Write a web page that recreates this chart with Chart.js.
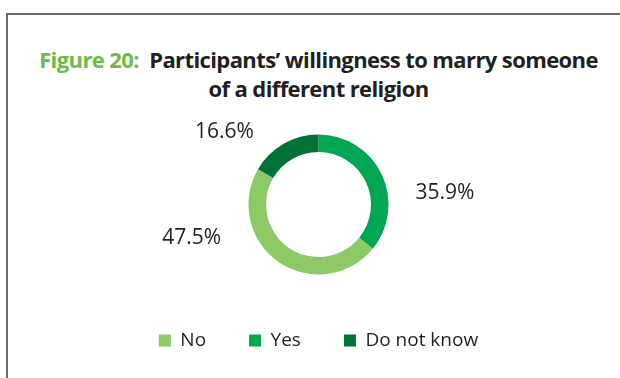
<!DOCTYPE html>
<html>
<head>
<meta charset="utf-8">
<script src="https://cdn.jsdelivr.net/npm/chart.js@4.4.1/dist/chart.umd.min.js"></script>
<style>
  html, body { margin: 0; padding: 0; background: #fff; }
  #wrap { position: relative; width: 620px; height: 378px; overflow: hidden; }
  #frame {
    position: absolute; left: 6px; top: 13px; right: -4px; bottom: -4px;
    border-top: 2px solid #6a6a6a; border-left: 2px solid #6a6a6a;
  }
  #title {
    position: absolute; left: 17px; right: 0; top: 45px;
    text-align: center; font-family: "Open Sans", sans-serif; font-weight: bold;
    font-size: 22px; line-height: 29px; color: #231f20; letter-spacing: -0.6px;
  }
  #title .fig { color: #6cbd45; }
  canvas { position: absolute; left: 0; top: 0; }
</style>
</head>
<body>
<div id="wrap">
  <div id="frame"></div>
  <div id="title"><span class="fig">Figure 20:</span>&nbsp; Participants’ willingness to marry someone<br>of a different religion</div>
  <canvas id="chart" width="620" height="378"></canvas>
</div>
<script>
// ring is drawn clockwise from 12 o'clock: Yes, No, Do not know
const categories = ['Yes', 'No', 'Do not know'];
const shares = [35.9, 47.5, 16.6];
const colors = ['#00a651', '#8dc965', '#007236'];
// legend reads No, Yes, Do not know
const legendOrder = ['No', 'Yes', 'Do not know'];

// per-label nudge away from the radial anchor point
const labelNudge = [[41, 29], [-73, -44], [-47, 9]];

const pctLabels = {
  id: 'pctLabels',
  afterDatasetsDraw(chart) {
    const ctx = chart.ctx;
    const meta = chart.getDatasetMeta(0);
    ctx.save();
    ctx.font = '21px "Open Sans", sans-serif';
    ctx.fillStyle = '#231f20';
    ctx.textAlign = 'center';
    ctx.textBaseline = 'middle';
    meta.data.forEach((arc, i) => {
      const p = arc.getProps(['x', 'y', 'startAngle', 'endAngle', 'outerRadius'], true);
      const mid = (p.startAngle + p.endAngle) / 2;
      const r = p.outerRadius * 1.35;
      const x = p.x + Math.cos(mid) * r + labelNudge[i][0];
      const y = p.y + Math.sin(mid) * r + labelNudge[i][1];
      ctx.fillText(shares[i].toFixed(1) + '%', x, y);
    });
    ctx.restore();
  }
};

new Chart(document.getElementById('chart'), {
  type: 'doughnut',
  data: {
    labels: categories,
    datasets: [{
      data: shares,
      backgroundColor: colors,
      borderWidth: 0,
      hoverOffset: 0
    }]
  },
  options: {
    responsive: false,
    animation: false,
    radius: 70,
    cutout: '75%',
    layout: { padding: { top: 121, left: 17, right: 0, bottom: 18 } },
    plugins: {
      tooltip: { enabled: false },
      legend: {
        position: 'bottom',
        labels: {
          boxWidth: 12,
          boxHeight: 12,
          padding: 43,
          color: '#231f20',
          font: { family: '"Open Sans", sans-serif', size: 19 },
          sort: (a, b) => legendOrder.indexOf(a.text) - legendOrder.indexOf(b.text)
        }
      }
    }
  },
  plugins: [pctLabels]
});
</script>
</body>
</html>
